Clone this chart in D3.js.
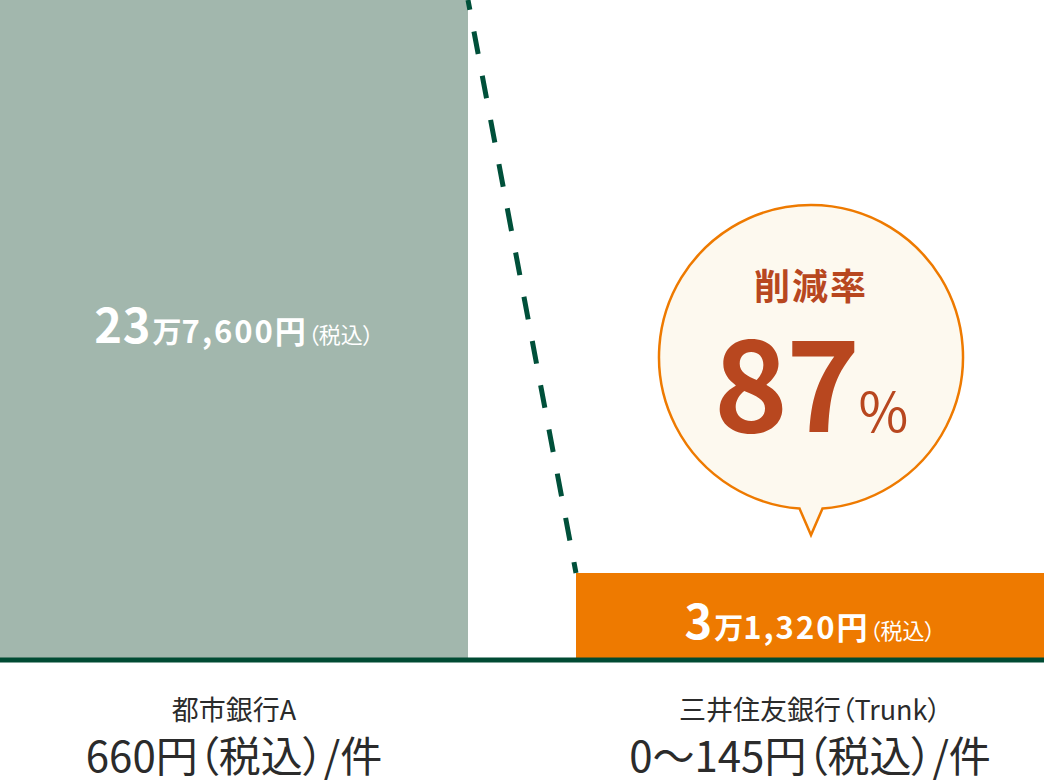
<!DOCTYPE html>
<html>
<head>
<meta charset="utf-8">
<script src="https://cdn.jsdelivr.net/npm/d3@7"></script>
<style>
  html, body { margin: 0; padding: 0; background: #fff; }
  svg { display: block; font-family: "Noto Sans CJK JP", "Noto Sans", sans-serif; font-feature-settings: "palt"; }
</style>
</head>
<body>
<svg id="chart" width="1044" height="780"></svg>
<script>
document.addEventListener("DOMContentLoaded", () => {
  "use strict";

  // data
  const BANKS  = ["都市銀行A", "三井住友銀行（Trunk）"];
  const COSTS  = [237600, 31320];
  const FEES   = ["660円（税込）/件", "0〜145円（税込）/件"];
  const LABEL_MAN  = ["23", "3"];
  const LABEL_REST = ["7,600円", "1,320円"];
  const CUT_RATE = 87;

  const rows = BANKS.map((b, i) => ({ bank: b, cost: COSTS[i], fee: FEES[i], man: LABEL_MAN[i], rest: LABEL_REST[i] }));

  const svg = d3.select("#chart");
  const W = 1044, BASE = 660;

  const x = d3.scaleBand().domain(BANKS).range([0, W]).paddingInner(108 / 576).paddingOuter(0);
  const y = d3.scaleLinear().domain([0, d3.max(COSTS)]).range([BASE, 0]);

  const barColor = d3.scaleOrdinal().domain(BANKS).range(["#a2b7ad", "#ee7a00"]);

  svg.selectAll("rect.bar").data(rows).join("rect")
    .attr("class", "bar")
    .attr("x", d => x(d.bank))
    .attr("y", d => y(d.cost))
    .attr("width", x.bandwidth())
    .attr("height", d => BASE - y(d.cost))
    .attr("fill", d => barColor(d.bank));

  // dashed connector between the bar tops
  const a = rows[0], b = rows[1];
  svg.append("line")
    .attr("x1", x(a.bank) + x.bandwidth()).attr("y1", y(a.cost))
    .attr("x2", x(b.bank)).attr("y2", y(b.cost))
    .attr("stroke", "#00503a")
    .attr("stroke-width", 5)
    .attr("stroke-dasharray", "23 22")
    .attr("stroke-dashoffset", 13);

  // baseline
  svg.append("line")
    .attr("x1", 0).attr("x2", W)
    .attr("y1", BASE).attr("y2", BASE)
    .attr("stroke", "#004b33")
    .attr("stroke-width", 5);

  // value labels in bars
  const labelY = d => d.cost === d3.max(COSTS) ? 343 : 639;
  const vl = svg.selectAll("text.val").data(rows).join("text")
    .attr("class", "val")
    .attr("x", d => x(d.bank) + x.bandwidth() / 2)
    .attr("y", labelY)
    .attr("text-anchor", "middle")
    .attr("fill", "#fff")
    .attr("font-weight", 700);
  vl.append("tspan").attr("font-size", 47).attr("letter-spacing", 1).text(d => d.man);
  vl.append("tspan").attr("font-size", 29).attr("dx", 1).text("万");
  vl.append("tspan").attr("font-size", 31).attr("letter-spacing", 2).text(d => d.rest);
  vl.append("tspan").attr("font-size", 22).attr("font-weight", 400).text("（税込）");

  // category labels
  svg.selectAll("text.cat").data(rows).join("text")
    .attr("class", "cat")
    .attr("x", d => x(d.bank) + x.bandwidth() / 2)
    .attr("y", 720)
    .attr("text-anchor", "middle")
    .attr("font-size", 27)
    .attr("fill", "#2b2b2b")
    .text(d => d.bank);

  svg.selectAll("text.fee").data(rows).join("text")
    .attr("class", "fee")
    .attr("x", d => x(d.bank) + x.bandwidth() / 2)
    .attr("y", 772)
    .attr("text-anchor", "middle")
    .attr("font-size", 42)
    .attr("fill", "#2b2b2b")
    .text(d => d.fee);

  // speech bubble
  const cx = x(b.bank) + x.bandwidth() / 2 + 1, cy = 357, r = 152;
  const hw = 11.5, dy = Math.sqrt(r * r - hw * hw), tipY = cy + r + 26;
  const bubble = d3.path();
  bubble.moveTo(cx + hw, cy + dy);
  bubble.arc(cx, cy, r, Math.atan2(dy, hw), Math.atan2(dy, -hw), true);
  bubble.lineTo(cx, tipY);
  bubble.closePath();
  svg.append("path")
    .attr("d", bubble.toString())
    .attr("fill", "#fdf9ef")
    .attr("stroke", "#ee7a00")
    .attr("stroke-width", 2.5)
    .attr("stroke-linejoin", "miter");

  svg.append("text")
    .attr("x", cx).attr("y", 300)
    .attr("text-anchor", "middle")
    .attr("font-size", 36)
    .attr("font-weight", 700)
    .attr("letter-spacing", 2)
    .attr("fill", "#b8471f")
    .text("削減率");

  const pct = svg.append("text")
    .attr("x", cx).attr("y", 432)
    .attr("text-anchor", "middle")
    .attr("fill", "#b8471f");
  pct.append("tspan").attr("font-size", 126).attr("font-weight", 700).attr("letter-spacing", -2).text(CUT_RATE);
  pct.append("tspan").attr("font-size", 54).attr("font-weight", 400).text("%");
});
</script>
</body>
</html>
